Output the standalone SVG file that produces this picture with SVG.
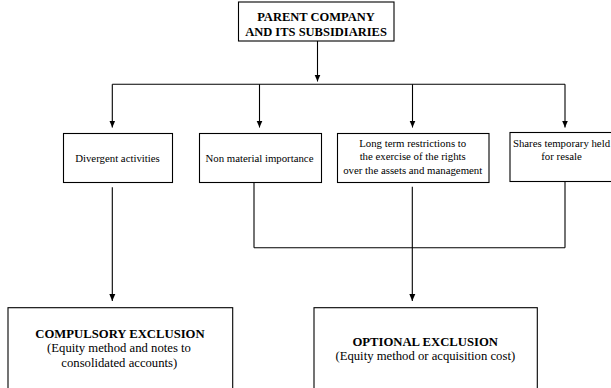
<svg xmlns="http://www.w3.org/2000/svg" width="611" height="388" viewBox="0 0 611 388">
<defs>
<style>
.box{fill:#fff;stroke:#000;stroke-width:1.1}
.ln{fill:none;stroke:#000;stroke-width:1.1}
.t{font-family:"Liberation Serif","Times New Roman",serif;font-size:10.8px;fill:#000;text-anchor:middle}
.b{font-family:"Liberation Serif","Times New Roman",serif;font-size:12.5px;font-weight:bold;fill:#000;text-anchor:middle}
.bb{font-family:"Liberation Serif","Times New Roman",serif;font-size:12.7px;font-weight:bold;fill:#000;text-anchor:middle}
.p{font-family:"Liberation Serif","Times New Roman",serif;font-size:12.7px;fill:#000;text-anchor:middle}
</style>
<marker id="ah" markerUnits="userSpaceOnUse" markerWidth="8" markerHeight="8" viewBox="0 0 8 8" refX="7" refY="4" orient="auto">
<path d="M0,1 L7,4 L0,7 Z" fill="#000"/>
</marker>
</defs>

<g id="connectors">
<line class="ln" x1="317.5" y1="41" x2="317.5" y2="81.5" marker-end="url(#ah)"/>
<line class="ln" x1="112.3" y1="84.3" x2="565" y2="84.3"/>
<line class="ln" x1="112.3" y1="84.3" x2="112.3" y2="127.5" marker-end="url(#ah)"/>
<line class="ln" x1="259.5" y1="84.3" x2="259.5" y2="127.5" marker-end="url(#ah)"/>
<line class="ln" x1="412.5" y1="84.3" x2="412.5" y2="127.5" marker-end="url(#ah)"/>
<line class="ln" x1="565" y1="84.3" x2="565" y2="127.5" marker-end="url(#ah)"/>
<line class="ln" x1="112.3" y1="187.3" x2="112.3" y2="301" marker-end="url(#ah)"/>
<line class="ln" x1="254" y1="182.5" x2="254" y2="247.7"/>
<line class="ln" x1="565" y1="181.5" x2="565" y2="247.7"/>
<line class="ln" x1="254" y1="247.7" x2="565" y2="247.7"/>
<line class="ln" x1="412.3" y1="186.7" x2="412.3" y2="301" marker-end="url(#ah)"/>
</g>

<g id="parent">
<rect class="box" x="238.5" y="2" width="155.5" height="39"/>
<text class="b" x="316" y="20.5">PARENT COMPANY</text>
<text class="b" x="316" y="35.5">AND ITS SUBSIDIARIES</text>
</g>

<g id="divergent">
<rect class="box" x="63.5" y="133.5" width="109" height="49"/>
<text class="t" x="117.5" y="161.5">Divergent activities</text>
</g>

<g id="nonmaterial">
<rect class="box" x="199.5" y="133.5" width="122" height="49"/>
<text class="t" x="259.5" y="161.5">Non material importance</text>
</g>

<g id="longterm">
<rect class="box" x="337.5" y="133.5" width="151.5" height="49"/>
<text class="t" x="412.7" y="147.3">Long term restrictions to</text>
<text class="t" x="412.7" y="160.3">the exercise of the rights</text>
<text class="t" x="412.7" y="173.5">over the assets and management</text>
</g>

<g id="shares">
<rect class="box" x="510" y="132.5" width="104" height="49"/>
<text class="t" x="561.5" y="147.3">Shares temporary held</text>
<text class="t" x="561.5" y="159.5">for resale</text>
</g>

<g id="compulsory">
<rect class="box" x="8" y="307.7" width="224.7" height="90"/>
<text class="bb" x="120" y="337.7">COMPULSORY EXCLUSION</text>
<text class="p" x="119" y="351.7">(Equity method and notes to</text>
<text class="p" x="119.3" y="366.7">consolidated accounts)</text>
</g>

<g id="optional">
<rect class="box" x="314" y="307.7" width="223.3" height="90"/>
<text class="bb" x="425.2" y="346">OPTIONAL EXCLUSION</text>
<text class="p" x="425.3" y="360">(Equity method or acquisition cost)</text>
</g>
</svg>
